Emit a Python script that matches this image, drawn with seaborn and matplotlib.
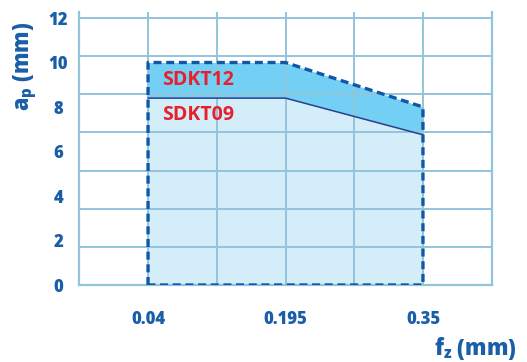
import numpy as np
import pandas as pd
import seaborn as sns
import matplotlib
matplotlib.use("Agg")
import matplotlib.pyplot as plt

# ============================
# Data
# ============================
fz_values = [0.04, 0.195, 0.35]          # feed per tooth (mm)
ap_sdkt12 = [10.0, 10.0, 8.0]            # upper limit, insert SDKT12
ap_sdkt09 = [8.4, 8.4, 6.75]             # upper limit, insert SDKT09
x_tick_labels = ["0.04", "0.195", "0.35"]
y_ticks = [0, 2, 4, 6, 8, 10, 12]

# colours
BLUE_TEXT = "#1a5ea8"
GRID = "#93c4dc"
DARK_FILL = "#74cff4"
LIGHT_FILL = "#d3eef9"
OUTLINE = "#0f58a6"
NAVY = "#2b3f8f"
RED = "#e5212d"

sns.set_theme(style="white")
plt.rcParams["font.family"] = ["Open Sans", "DejaVu Sans"]
plt.rcParams["mathtext.default"] = "regular"

fig = plt.figure(figsize=(5.27, 3.62), dpi=100)
ax = fig.add_axes([79.3 / 527, 1 - 285 / 362, (491.7 - 79.3) / 527, (285 - 12) / 362])

# fills
ax.fill_between(fz_values, 0, ap_sdkt09, color=LIGHT_FILL, lw=0, zorder=1)
ax.fill_between(fz_values, ap_sdkt09, ap_sdkt12, color=DARK_FILL, lw=0, zorder=1)

# grid lines (drawn by hand so that lines on tick positions are kept)
step = 0.0775
for gx in np.arange(fz_values[0] - step, fz_values[-1] + step * 1.01, step)[1:-1]:
    ax.axvline(gx, color=GRID, lw=1.4, zorder=2)
for gy in np.linspace(0, 12, 8)[1:]:
    ax.axhline(gy, color=GRID, lw=1.4, zorder=2)

# SDKT09 boundary line
df09 = pd.DataFrame({"fz": fz_values, "ap": ap_sdkt09})
sns.lineplot(data=df09, x="fz", y="ap", color=NAVY, lw=1.1, ax=ax,
             estimator=None, sort=False, zorder=3)

# dashed outline of the SDKT12 working area
outline = pd.DataFrame({
    "fz": [fz_values[0]] + fz_values + [fz_values[-1], fz_values[0]],
    "ap": [0] + ap_sdkt12 + [0, 0],
})
sns.lineplot(data=outline, x="fz", y="ap", color=OUTLINE, lw=2.4, ax=ax,
             estimator=None, sort=False, zorder=4, dashes=False,
             linestyle=(0, (2.4, 1.4)))

# labels inside the area
ax.text(0.0555, 9.2, "SDKT12", color=RED, fontsize=14, fontweight="bold",
        va="center", ha="left", zorder=5)
ax.text(0.0555, 7.65, "SDKT09", color=RED, fontsize=14, fontweight="bold",
        va="center", ha="left", zorder=5)

# axes limits / ticks
ax.set_xlim(fz_values[0] - step, fz_values[-1] + step)
ax.set_ylim(0, 12.27)
ax.set_xticks(fz_values)
ax.set_xticklabels(x_tick_labels)
ax.set_yticks(y_ticks)
ax.grid(False)
ax.tick_params(which="both", length=0)
ax.tick_params(axis="x", pad=19, labelsize=12, labelcolor=BLUE_TEXT)
ax.tick_params(axis="y", pad=15, labelsize=12, labelcolor=BLUE_TEXT)
for lab in ax.get_xticklabels() + ax.get_yticklabels():
    lab.set_fontweight("heavy")
for lab in ax.get_yticklabels():
    lab.set_horizontalalignment("center")

for side in ["left", "right", "bottom"]:
    ax.spines[side].set_color(GRID)
    ax.spines[side].set_linewidth(1.6)
ax.spines["top"].set_visible(False)
ax.set_xlabel("")
ax.set_ylabel("")

# axis titles
fig.text(25 / 527, 1 - 66 / 362, "a$_{p}$ (mm)", rotation=90, color=BLUE_TEXT,
         fontsize=15.5, fontweight="heavy", ha="center", va="center")
fig.text(517 / 527, 1 - 348 / 362, "f$_{z}$ (mm)", color=BLUE_TEXT,
         fontsize=15.5, fontweight="heavy", ha="right", va="center")

fig.savefig("out.png", dpi=100)
